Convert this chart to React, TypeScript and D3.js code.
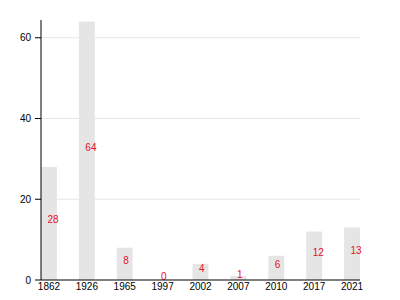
import React from "react";
import * as d3 from "d3";

const years = ["1862", "1926", "1965", "1997", "2002", "2007", "2010", "2017", "2021"];
const counts = [28, 64, 8, 0, 4, 1, 6, 12, 13];
const yTicks = [0, 20, 40, 60];

export default function App() {
  const W = 400, H = 300;
  const left = 41, right = 360, top = 20, bottom = 280;
  const x = d3.scaleBand<string>().domain(years).range([left, right]).paddingInner(0.58).paddingOuter(0);
  const y = d3.scaleLinear().domain([0, 64.4]).range([bottom, top]);
  const font = "'Liberation Sans', Arial, Helvetica, sans-serif";
  return (
    <svg width={W} height={H} style={{ position: "absolute", left: 0, top: 0 }} fontFamily={font}>
      {yTicks.filter((t) => t > 0).map((t) => (
        <line key={"g" + t} x1={left} x2={right} y1={y(t)} y2={y(t)} stroke="#e6e6e6" strokeWidth={1} />
      ))}
      {years.map((yr, i) => (
        <rect key={yr} x={x(yr)!} width={x.bandwidth()} y={y(counts[i])} height={bottom - y(counts[i])} fill="#e5e5e5" />
      ))}
      {years.map((yr, i) => (
        <text key={"l" + yr} x={x(yr)! + x.bandwidth() / 2 - 1.5} y={y(counts[i] / 2)} fill="#e8102a" fontSize={10}>
          {counts[i]}
        </text>
      ))}
      <line x1={left} x2={left} y1={top} y2={bottom} stroke="#000" strokeWidth={1} />
      <line x1={left} x2={right} y1={bottom} y2={bottom} stroke="#000" strokeWidth={1} />
      {yTicks.map((t) => (
        <g key={"t" + t}>
          <line x1={left - 6} x2={left} y1={y(t)} y2={y(t)} stroke="#000" />
          <text x={left - 10} y={y(t)} dy="0.35em" textAnchor="end" fontSize={10} fill="#000">{t}</text>
        </g>
      ))}
      {years.map((yr) => (
        <text key={"x" + yr} x={x(yr)! + x.bandwidth() / 2} y={bottom + 3} dy="0.71em" textAnchor="middle" fontSize={10} fill="#000">
          {yr}
        </text>
      ))}
    </svg>
  );
}
